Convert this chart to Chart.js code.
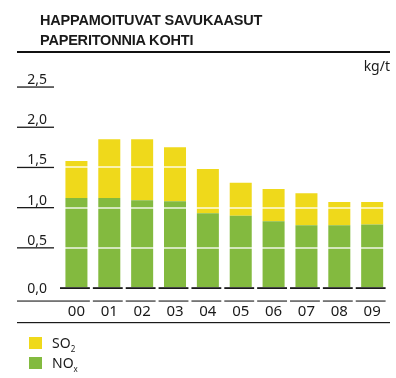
<!DOCTYPE html>
<html>
<head>
<meta charset="utf-8">
<script src="https://cdn.jsdelivr.net/npm/chart.js@4"></script>
<style>
  body { margin: 0; background: #fff; }
  #wrap { position: relative; width: 396px; height: 378px; font-family: "Noto Sans", sans-serif; color: #1a1a1a; }
  #chart { position: absolute; left: 0; top: 0; }
  .title { position: absolute; left: 40px; top: 10px; font: bold 14.5px "Liberation Sans", Arial, sans-serif; line-height: 20px; letter-spacing: -0.2px; white-space: nowrap; }
  .rule { position: absolute; left: 17px; width: 373px; height: 1.5px; background: #111; }
  .unit { position: absolute; right: 6px; top: 56px; font-size: 14px; }
  .legend { position: absolute; left: 29px; top: 334px; font-size: 14px; }
  .legend div { height: 20px; line-height: 18px; }
  .legend span { display: inline-block; width: 13px; height: 12px; margin-right: 10px; vertical-align: -1px; }
  .legend sub { font-size: 8px; vertical-align: -4px; }
</style>
</head>
<body>
<div id="wrap">
  <canvas id="chart" width="396" height="378"></canvas>
  <div class="title">HAPPAMOITUVAT SAVUKAASUT<br>PAPERITONNIA KOHTI</div>
  <div class="rule" style="top:51px"></div>
  <div class="unit">kg/t</div>
  <div class="legend">
    <div><span style="background:#efd91b"></span>SO<sub>2</sub></div>
    <div><span style="background:#83ba3f"></span>NO<sub>x</sub></div>
  </div>
</div>
<script>
const years = ['00', '01', '02', '03', '04', '05', '06', '07', '08', '09'];
const noxValues = [1.12, 1.12, 1.09, 1.08, 0.93, 0.90, 0.83, 0.78, 0.78, 0.79];
const so2Values = [0.46, 0.73, 0.76, 0.67, 0.55, 0.41, 0.40, 0.40, 0.29, 0.28];
const yTicks = [0, 0.5, 1, 1.5, 2, 2.5];

// axis labels, short tick rules and the broken base lines
const frame = {
  id: 'frame',
  afterDraw(chart) {
    const { ctx, scales: { x, y } } = chart;
    ctx.save();
    ctx.fillStyle = '#1a1a1a';
    ctx.font = '14px "Noto Sans"';
    ctx.textAlign = 'right';
    ctx.textBaseline = 'middle';
    y.ticks.forEach(t => {
      const py = y.getPixelForValue(t.value);
      const label = t.value.toFixed(1).replace('.', ',');
      if (t.value === 0) {
        ctx.fillText(label, 47, py + 1);
      } else {
        ctx.fillText(label, 47, py - 7);
        ctx.fillRect(17, py - 0.6, 37, 1.3);
      }
    });
    const half = (x.getPixelForValue(1) - x.getPixelForValue(0)) / 2;
    const y0 = y.getPixelForValue(0);
    years.forEach((_, i) => {
      const cx = x.getPixelForValue(i);
      ctx.fillRect(cx - half, y0 - 0.8, half * 2 - 3, 1.8);
      const left = i === 0 ? 17 : cx - half;
      ctx.fillRect(left, y0 + 12.5, cx + half - 3 - left, 1.1);
    });
    ctx.fillRect(17, y0 + 34, 373, 1.2);
    ctx.restore();
  }
};

new Chart(document.getElementById('chart'), {
  type: 'bar',
  data: {
    labels: years,
    datasets: [
      { label: 'NOx', data: noxValues, backgroundColor: '#83ba3f' },
      { label: 'SO2', data: so2Values, backgroundColor: '#efd91b' }
    ]
  },
  options: {
    responsive: false,
    animation: false,
    layout: { padding: { left: 60, right: 5, top: 87, bottom: 42 } },
    datasets: { bar: { categoryPercentage: 1, barPercentage: 0.67 } },
    plugins: { legend: { display: false }, tooltip: { enabled: false } },
    scales: {
      x: {
        stacked: true,
        grid: { display: false, drawTicks: false },
        border: { display: false },
        ticks: { color: '#1a1a1a', font: { family: 'Noto Sans', size: 15 }, padding: 15 }
      },
      y: {
        stacked: true,
        min: 0,
        max: 2.5,
        afterBuildTicks: s => { s.ticks = yTicks.map(v => ({ value: v })); },
        afterFit: s => { s.width = 0; },
        grid: {
          z: 1,
          drawTicks: false,
          lineWidth: 2,
          color: c => (c.tick && (c.tick.value === 0 || c.tick.value === 2.5)) ? 'rgba(0,0,0,0)' : 'rgba(255,255,255,0.65)'
        },
        border: { display: false },
        ticks: { display: false }
      }
    }
  },
  plugins: [frame]
});
</script>
</body>
</html>
